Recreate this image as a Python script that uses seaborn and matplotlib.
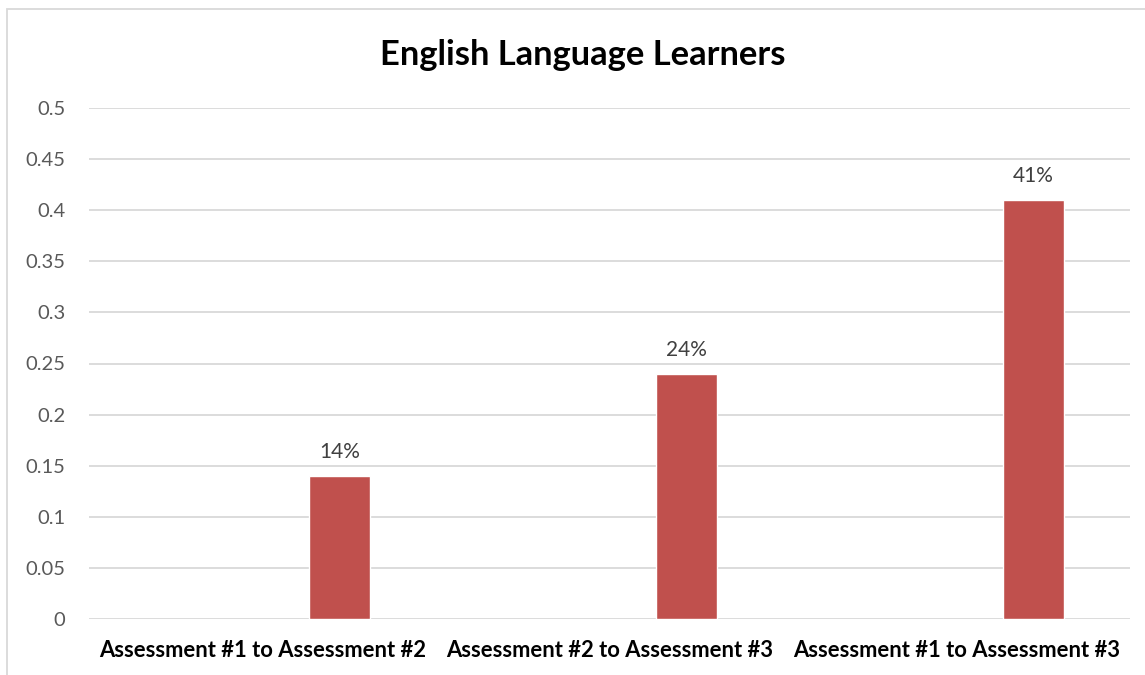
import matplotlib.pyplot as plt
import matplotlib.patches as mpatches
import seaborn as sns
import pandas as pd
import numpy as np

# chart data
categories = ['Assessment #1 to Assessment #2', 'Assessment #2 to Assessment #3', 'Assessment #1 to Assessment #3']
growth = [0.14, 0.24, 0.41]
labels = ['14%', '24%', '41%']

# Excel layout has an empty first series, so the bars sit right of centre
df = pd.DataFrame({
    'category': categories * 2,
    'series': ['blank'] * 3 + ['ELL'] * 3,
    'value': [np.nan] * 3 + growth,
})

sns.set_style('white')
plt.rcParams['font.family'] = ['Lato', 'DejaVu Sans']

fig = plt.figure(figsize=(11.45, 6.75), dpi=100)
ax = fig.add_axes([89 / 1145, 1 - 619 / 675, (1130 - 89) / 1145, (619 - 108) / 675])

sns.barplot(data=df, x='category', y='value', hue='series', hue_order=['blank', 'ELL'],
            palette={'blank': '#c0504d', 'ELL': '#c0504d'}, width=0.888, gap=0.6,
            legend=False, ax=ax, saturation=1)

ell_bars = ax.containers[-1]
ax.bar_label(ell_bars, labels=labels, padding=10, fontsize=15, color='#404040')

ax.set_ylim(0, 0.5)
ax.set_yticks(np.arange(0, 0.51, 0.05))
ax.set_yticklabels(['0', '0.05', '0.1', '0.15', '0.2', '0.25', '0.3', '0.35', '0.4', '0.45', '0.5'])
ax.yaxis.grid(True, color='#d9d9d9', linewidth=1.3)
ax.set_axisbelow(True)
for s in ax.spines.values():
    s.set_visible(False)
ax.tick_params(axis='y', length=0, pad=17, labelsize=14.5, labelcolor='#595959')
ax.tick_params(axis='x', length=0, pad=15)
for t in ax.get_xticklabels():
    t.set_fontweight('bold')
    t.set_fontsize(15.8)
    t.set_color('black')
ax.set_xlabel('')
ax.set_ylabel('')

fig.text(0.509, 1 - 55 / 675, 'English Language Learners', ha='center', va='center',
         fontsize=24.8, fontweight='bold', color='black')

# chart border
fig.patches.append(mpatches.Rectangle((7 / 1145, -0.05), 1.1, 1 - 9 / 675 + 0.05,
                                      transform=fig.transFigure, fill=False,
                                      edgecolor='#d9d9d9', linewidth=1.3))

plt.savefig('out.png', dpi=100)
